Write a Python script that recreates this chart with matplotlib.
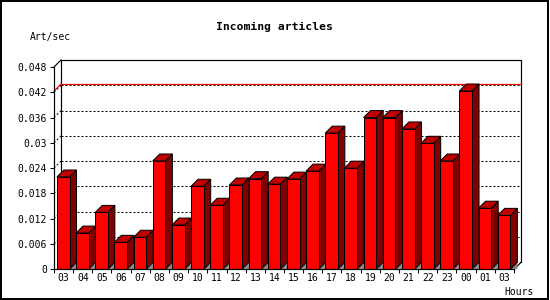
import matplotlib
matplotlib.use("Agg")
import matplotlib.pyplot as plt
import matplotlib.transforms as mtransforms
from matplotlib.patches import Polygon, Rectangle
from matplotlib.lines import Line2D

# hourly incoming article rate
hours = ["03", "04", "05", "06", "07", "08", "09", "10", "11", "12", "13", "14",
         "15", "16", "17", "18", "19", "20", "21", "22", "23", "00", "01", "03"]
rates = [0.0219, 0.0086, 0.0135, 0.0064, 0.0076, 0.0257, 0.0105, 0.0197,
         0.0152, 0.0200, 0.0215, 0.0202, 0.0214, 0.0233, 0.0323, 0.0240,
         0.0360, 0.0360, 0.0333, 0.0299, 0.0257, 0.0423, 0.0145, 0.0128]
y_ticks = [0, 0.006, 0.012, 0.018, 0.024, 0.03, 0.036, 0.042, 0.048]
y_labels = ["0", "0.006", "0.012", "0.018", "0.024", "0.03", "0.036", "0.042", "0.048"]

MONO = "DejaVu Sans Mono"
PX = 0.72  # one pixel in points at dpi 100
DEPTH = 0.07  # 7 px in inches

fig = plt.figure(figsize=(5.5, 3), dpi=100)
ax = fig.add_axes([54 / 550, 30.7 / 300, 460 / 550, 202.3 / 300])
ax.set_xlim(-0.5, len(hours) - 0.5)
ax.set_ylim(0, y_ticks[-1])
ax.patch.set_visible(False)

# transform for the back plane of the 3d box
back = ax.transData + mtransforms.ScaledTranslation(DEPTH, DEPTH, fig.dpi_scale_trans)
ident = mtransforms.IdentityTransform()
fig.canvas.draw()


def front_pt(x, y):
    return ax.transData.transform((x, y))


def back_pt(x, y):
    return back.transform((x, y))


def diag(x, y, **kw):
    p0, p1 = front_pt(x, y), back_pt(x, y)
    ax.add_line(Line2D([p0[0], p1[0]], [p0[1], p1[1]], transform=ident, clip_on=False, **kw))


x_lo, x_hi = -0.5, len(hours) - 0.5
ymax = y_ticks[-1]

# back wall
ax.add_patch(Rectangle((x_lo, 0), x_hi - x_lo, ymax, transform=back,
                       facecolor="white", edgecolor="none", clip_on=False, zorder=0))
ax.plot([x_lo, x_lo, x_hi, x_hi], [0, ymax, ymax, 0], transform=back,
        color="black", lw=PX * 1.2, clip_on=False, zorder=0.5)

# dotted grid lines on back wall
for v in y_ticks[1:-1]:
    ax.plot([x_lo, x_hi], [v, v], transform=back, color="black", lw=PX,
            ls=(0, (2, 2)), clip_on=False, zorder=0.6)
    diag(x_lo, v, color="black", lw=PX, ls=(0, (2, 2)), zorder=0.6)

# max line
vmax = max(rates)
ax.plot([x_lo, x_hi], [vmax, vmax], transform=back, color="red", lw=PX * 1.2,
        clip_on=False, zorder=0.7)
diag(x_lo, vmax, color="red", lw=PX * 1.2, zorder=0.7)

# frame diagonals
diag(x_lo, ymax, color="black", lw=PX * 1.2, zorder=0.7)
diag(x_hi, 0, color="black", lw=PX * 1.2, zorder=0.7)

# bars
width = 0.66
for i, v in enumerate(rates):
    x0 = i - 0.5 + 0.15
    x1 = x0 + width
    z = 1 + i * 0.01
    fb, bb = front_pt(x1, 0), back_pt(x1, 0)
    ax.add_patch(Polygon([fb, bb, (bb[0], fb[1])], closed=True, transform=ident,
                         facecolor="#8c8c8c", edgecolor="none", clip_on=False, zorder=z))
    side = [front_pt(x1, 0), front_pt(x1, v), back_pt(x1, v), back_pt(x1, 0)]
    ax.add_patch(Polygon(side, closed=True, transform=ident, facecolor="#800000",
                         edgecolor="black", lw=PX, clip_on=False, zorder=z))
    top = [front_pt(x0, v), front_pt(x1, v), back_pt(x1, v), back_pt(x0, v)]
    ax.add_patch(Polygon(top, closed=True, transform=ident, facecolor="#c00000",
                         edgecolor="black", lw=PX, clip_on=False, zorder=z))
    ax.add_patch(Rectangle((x0, 0), width, v, facecolor="#ff0000",
                           edgecolor="black", lw=PX, clip_on=False, zorder=z + 0.005))

# axes
for s in ["top", "right"]:
    ax.spines[s].set_visible(False)
for s in ["left", "bottom"]:
    ax.spines[s].set_linewidth(PX * 1.2)
    ax.spines[s].set_zorder(3)
ax.set_yticks(y_ticks)
ax.set_yticklabels(y_labels, family=MONO, fontsize=7)
ax.tick_params(axis="y", length=4 * PX, width=PX, pad=2.2)
ax.set_xticks([i - 0.5 for i in range(len(hours) + 1)])
ax.set_xticklabels([])
ax.set_xticks(range(len(hours)), minor=True)
ax.set_xticklabels(hours, minor=True, family=MONO, fontsize=7)
ax.tick_params(axis="x", which="major", length=3.5 * PX, width=PX)
ax.tick_params(axis="x", which="minor", length=0, pad=2.5)

fig.text(274.5 / 550, 1 - 27 / 300, "Incoming articles", ha="center", va="center",
         family=MONO, fontsize=8.2, fontweight="bold")
fig.text(30 / 550, 1 - 37 / 300, "Art/sec", ha="left", va="center", family=MONO, fontsize=7)
fig.text(534 / 550, 1 - 292 / 300, "Hours", ha="right", va="center", family=MONO, fontsize=7)

fig.add_artist(Rectangle((0.7 / 550, 1.5 / 300), 547.3 / 550, 297.5 / 300,
                         transform=fig.transFigure, fill=False, edgecolor="black", lw=1.44))

fig.savefig("out.png", dpi=100)
